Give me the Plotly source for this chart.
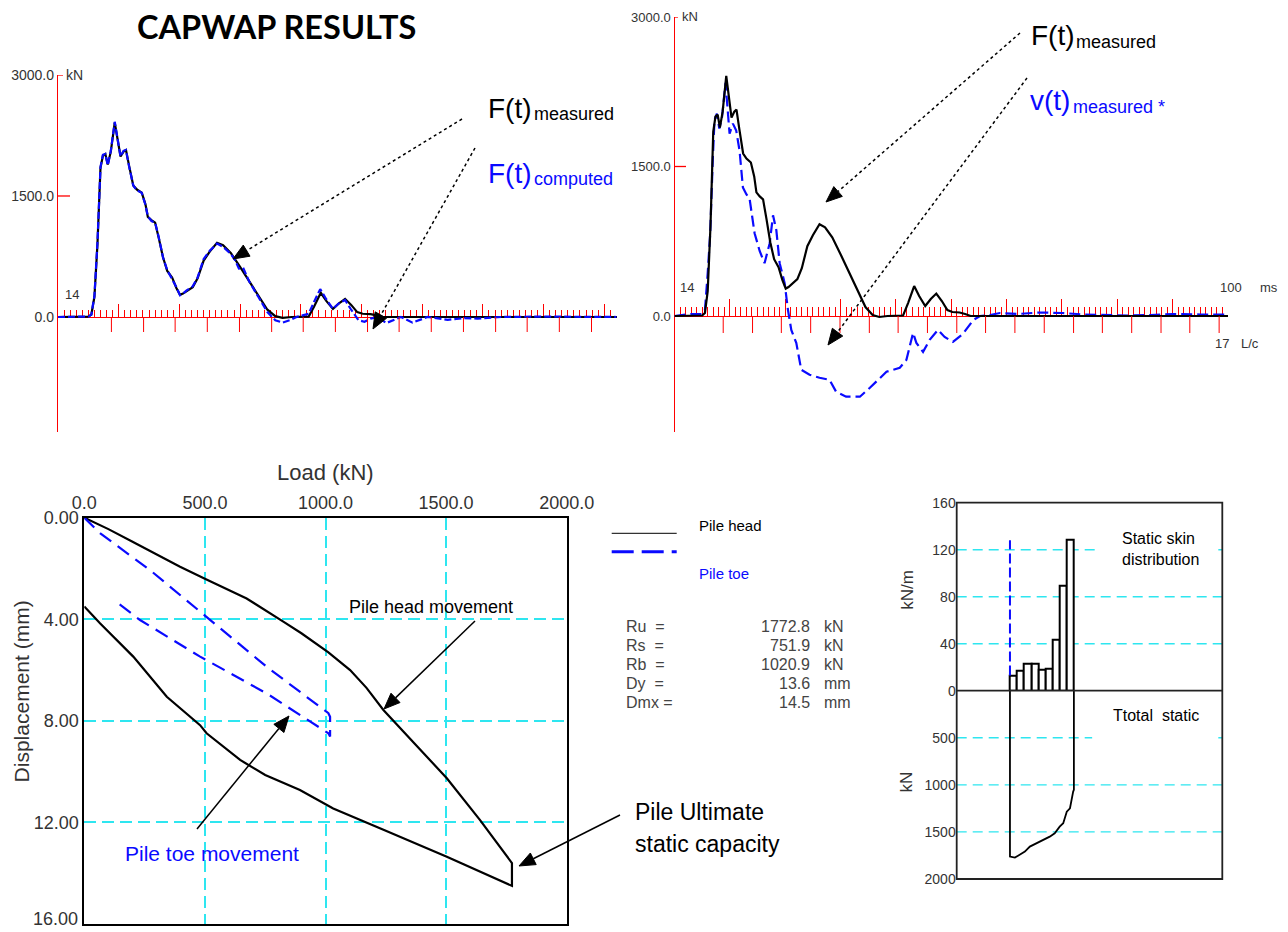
import math
import plotly.graph_objects as go

# page body adds an 8 px margin; the figure is sized so the chart lands where the reference has it
OFF = 8
W, H = 1280, 924


def fx(px):
    return (px - OFF) / W


def fy(py):
    return 1 - (py - OFF) / H


# ---------------- DATA ----------------
# Force measured (time ms, force kN)
t_force = [0, 4.0, 5.0, 5.5, 6.0, 6.5, 7.0, 7.4, 7.8, 8.2, 8.7, 9.35, 9.8, 10.3, 10.8, 11.2,
           11.7, 12.4, 13.0, 13.8, 14.4, 14.8, 15.4, 16.0, 16.6, 17.3, 18.0, 18.8, 19.5, 20.1,
           20.6, 21.2, 22.2, 23.0, 24.0, 25.0, 26.2, 27.2, 28.5, 30.0, 31.5, 33.0, 34.5, 35.8,
           37.0, 38.5, 40.0, 41.3, 42.2, 43.3, 44.2, 45.3, 46.3, 47.3, 48.3, 49.3, 50.2, 51.5,
           52.5, 53.5, 60, 70, 80, 90, 100]
f_measured = [0, 0, 5, 30, 250, 900, 1850, 2000, 2020, 1890, 2050, 2410, 2230, 1990, 2050, 2070,
              1880, 1630, 1580, 1540, 1400, 1240, 1200, 1170, 980, 740, 570, 490, 360, 275,
              290, 320, 370, 480, 700, 810, 920, 890, 790, 620, 440, 260, 90, 10,
              -10, 0, 0, 5, 130, 300, 200, 100, 170, 225, 150, 60, 40, 35,
              20, 0, 0, 0, 0, 0, 0]

# Force computed (top-left, blue dashed)
t_computed = [0, 4.0, 5.0, 5.5, 6.0, 6.5, 7.0, 7.4, 7.8, 8.2, 8.7, 9.35, 9.8, 10.3, 10.8, 11.2,
              11.7, 12.4, 13.0, 13.8, 14.4, 14.8, 15.4, 16.0, 16.6, 17.3, 18.0, 18.8, 19.5, 20.1,
              20.6, 21.2, 22.2, 23.0, 24.0, 25.0, 26.2, 27.2, 28.5, 29.2, 29.8, 30.5, 31.5, 33.0,
              34.5, 35.8, 37.0, 38.2, 39.3, 40.3, 41.3, 42.2, 43.2, 44.2, 45.3, 46.3, 47.3, 48.3,
              49.5, 50.5, 51.5, 52.6, 54.1, 56.5, 58.4, 60.9, 64.2, 67.0, 69.1, 73.0, 80.0, 92.0]
f_computed = [0, 0, 5, 30, 260, 920, 1860, 2010, 2020, 1880, 2060, 2420, 2240, 1990, 2060, 2070,
              1870, 1630, 1570, 1540, 1390, 1250, 1190, 1170, 990, 740, 580, 470, 370, 270,
              290, 330, 380, 490, 720, 820, 910, 870, 780, 700, 600, 610, 440, 250,
              60, -40, -70, -40, 0, 20, 40, 190, 345, 220, 100, 170, 210, 90,
              -40, -60, -20, 0, -75, 0, -70, 0, -35, -15, -20, 0, 5, 0]

# Velocity measured (times impedance), top-right blue dashed
t_velocity = [0, 3.0, 5.0, 5.5, 6.0, 6.45, 6.93, 7.23, 7.66, 8.1, 8.6, 9.22, 9.95, 10.55, 11.15,
              11.75, 12.36, 13.0, 13.56, 14.47, 15.4, 16.27, 17.2, 17.8, 18.4, 19.0, 19.9, 20.5,
              21.1, 22.0, 22.9, 24.4, 26.2, 28.0, 29.2, 31.0, 33.5, 35.3, 38.3, 40.7, 41.9, 43.1,
              43.7, 44.9, 46.1, 47.6, 48.8, 50.3, 52.1, 54.0, 55.2, 57.0, 58.8, 62, 66, 70, 74,
              78, 82, 86, 90, 95, 100]
v_measured = [0, 20, 20, 60, 430, 830, 1590, 1970, 2030, 1880, 2000, 2340, 1830, 1930, 1860,
              1660, 1290, 1220, 1180, 830, 650, 530, 730, 1010, 860, 530, 330, 60,
              -140, -270, -540, -590, -620, -640, -760, -810, -810, -720, -560, -520, -440, -170,
              -270, -360, -240, -140, -210, -260, -180, -40, 0, 10, 30, 20, 35, 30, 15,
              10, 5, 10, 20, 15, 15]

# L/c marks (ms)
lc_marks = [8.8, 14.1, 19.3, 24.6, 29.9, 35.2, 40.4, 45.7, 51.0, 56.2, 61.5, 66.8, 72.1,
            77.3, 82.6, 87.9, 93.1, 98.4]

# Load - displacement (kN, mm)
head_load = [0, 100, 200, 300, 397, 500, 673, 825, 900, 1012, 1102, 1170, 1240, 1370, 1503,
             1640, 1765, 1773, 1773, 1503, 1250, 1032, 894, 750, 646, 507, 480, 342, 203, 65, 0]
head_disp = [0, 0.45, 0.95, 1.45, 1.93, 2.4, 3.18, 4.09, 4.55, 5.3, 6.0, 6.7, 7.57, 8.9, 10.26,
             11.9, 13.48, 13.6, 14.5, 13.35, 12.33, 11.45, 10.72, 10.13, 9.54, 8.49, 8.17, 7.05,
             5.47, 4.16, 3.5]
toe_load = [0, 65, 272, 507, 756, 1012, 1019, 1019, 1012, 756, 480, 231, 141]
toe_disp = [0, 0.61, 2.06, 3.9, 5.87, 7.7, 7.84, 8.62, 8.49, 6.92, 5.47, 4.03, 3.37]
disp_ticks = [0, 4, 8, 12]
disp_tick_text = ["0.00", "4.00", "8.00", "12.00"]
disp_max_label = "16.00"

# Static skin distribution (kN/m) per 2 m segment
seg_centers = [1, 3, 5, 7, 9, 11, 13, 15, 17]
skin_q = [12.5, 17, 23.3, 23.3, 18.2, 19, 43.4, 89.7, 128.2]
toe_marker_q = [13, 128]
# Total static resistance along pile (depth m, kN)
rt_depth = [0, 0, 1.4, 2.8, 4.2, 5.6, 7.5, 9.4, 11.2, 12.6, 14.0, 15.0, 16.0, 16.9, 17.4, 17.8, 18, 18]
rt_value = [0, 1762, 1773, 1744, 1709, 1656, 1620, 1585, 1550, 1514, 1444, 1408, 1285, 1249,
            1125, 1072, 1054, 0]

skin_grid = [40, 80, 120]
total_grid = [500, 1000, 1500]

res_names = ["Ru&nbsp;&nbsp;=", "Rs&nbsp;&nbsp;=", "Rb&nbsp;&nbsp;=", "Dy&nbsp;&nbsp;=", "Dmx ="]
res_values = [1772.8, 751.9, 1020.9, 13.6, 14.5]
res_units = ["kN", "kN", "kN", "mm", "mm"]

# ---------------- FIGURE ----------------
FONT = "Liberation Sans, Arial, sans-serif"
BLUE = "#0a0aff"
CYAN = "#2ee6f0"
GREY = "#333333"

fig = go.Figure()

# top-left
fig.add_trace(go.Scatter(x=t_force, y=f_measured, mode="lines", xaxis="x", yaxis="y",
                         line=dict(color="black", width=2.2), showlegend=False))
fig.add_trace(go.Scatter(x=t_computed, y=f_computed, mode="lines", xaxis="x", yaxis="y",
                         line=dict(color=BLUE, width=2.2, dash="7px,3px"), showlegend=False))
# top-right
fig.add_trace(go.Scatter(x=t_velocity, y=v_measured, mode="lines", xaxis="x2", yaxis="y2",
                         line=dict(color=BLUE, width=2.2, dash="11px,5px"), showlegend=False))
fig.add_trace(go.Scatter(x=t_force, y=f_measured, mode="lines", xaxis="x2", yaxis="y2",
                         line=dict(color="black", width=2.2), showlegend=False))
# bottom-left
fig.add_trace(go.Scatter(x=head_load, y=head_disp, mode="lines", xaxis="x3", yaxis="y3",
                         line=dict(color="black", width=2.2), showlegend=False))
fig.add_trace(go.Scatter(x=toe_load, y=toe_disp, mode="lines", xaxis="x3", yaxis="y3",
                         line=dict(color=BLUE, width=2.2, dash="14px,8px"), showlegend=False))
# bottom-right
fig.add_trace(go.Bar(x=seg_centers, y=skin_q, width=2, xaxis="x4", yaxis="y4",
                     marker=dict(color="white", line=dict(color="black", width=2)), showlegend=False))
fig.add_trace(go.Scatter(x=[0, 0], y=toe_marker_q, mode="lines", xaxis="x4", yaxis="y4",
                         line=dict(color=BLUE, width=2, dash="10px,4px"), showlegend=False))
fig.add_trace(go.Scatter(x=rt_depth, y=rt_value, mode="lines", xaxis="x4", yaxis="y5",
                         line=dict(color="black", width=1.8), showlegend=False))

red_x = dict(showline=True, linecolor="red", linewidth=1.3, anchor="free", ticks="inside",
             tickcolor="red", tickwidth=1, tick0=0, dtick=10, showticklabels=False,
             showgrid=False, zeroline=False, layer="below traces")
red_y = dict(showline=True, linecolor="red", linewidth=1.3, ticks="", tickvals=[0, 1500, 3000],
             ticktext=["0.0", "1500.0", "3000.0"], showgrid=False, zeroline=False,
             layer="below traces")

layout = dict(
    width=W, height=H, margin=dict(l=0, r=0, t=0, b=0, autoexpand=False),
    paper_bgcolor="white", plot_bgcolor="rgba(0,0,0,0)",
    font=dict(family=FONT, color=GREY),
    showlegend=False,
    bargap=0,
    xaxis=dict(red_x, domain=[fx(58), fx(617)], range=[0, 92.1], position=fy(317), ticklen=13,
               minor=dict(ticks="inside", dtick=1, tick0=0, ticklen=7, tickcolor="red", tickwidth=1,
                          showgrid=False)),
    yaxis=dict(red_y, domain=[fy(432), fy(75)], range=[-1426, 3000], anchor="x",
               tickfont=dict(size=14, color=GREY)),
    xaxis2=dict(red_x, domain=[fx(674.5), fx(1228)], range=[0, 100], position=fy(316), ticklen=17,
                minor=dict(ticks="inside", dtick=1, tick0=0, ticklen=9, tickcolor="red", tickwidth=1,
                           showgrid=False)),
    yaxis2=dict(red_y, domain=[fy(432), fy(17)], range=[-1164, 3000], anchor="x2",
                tickfont=dict(size=13, color=GREY)),
    xaxis3=dict(domain=[fx(84.3), fx(566.7)], range=[0, 2000], side="top", anchor="y3",
                tickvals=[0, 500, 1000, 1500, 2000],
                ticktext=["0.0", "500.0", "1000.0", "1500.0", "2000.0"],
                showline=True, mirror=True, linecolor="black", linewidth=2, ticks="",
                showgrid=True, gridcolor=CYAN, griddash="12px,6px", gridwidth=1.5, zeroline=False,
                tickfont=dict(size=18, color=GREY)),
    yaxis3=dict(domain=[fy(924), fy(517.7)], range=[16, 0], anchor="x3",
                tickvals=disp_ticks, ticktext=disp_tick_text,
                showline=True, mirror=True, linecolor="black", linewidth=2, ticks="",
                showgrid=True, gridcolor=CYAN, griddash="12px,6px", gridwidth=1.5, zeroline=False,
                tickfont=dict(size=18, color=GREY)),
    xaxis4=dict(domain=[fx(956.7), fx(1222.3)], range=[-15, 59.8], anchor="y5", visible=False),
    yaxis4=dict(domain=[fy(690.7), fy(502.7)], range=[0, 160], anchor="x4",
                tickvals=[0, 40, 80, 120, 160], ticks="", showline=False, zeroline=False,
                showgrid=False, tickfont=dict(size=14, color=GREY)),
    yaxis5=dict(domain=[fy(879), fy(690.7)], range=[2000, 0], anchor="x4",
                tickvals=[500, 1000, 1500, 2000], ticks="", showline=False, zeroline=False,
                showgrid=False, tickfont=dict(size=14, color=GREY)),
)
fig.update_layout(**layout)

shapes = []
annotations = []


def pline(x0, y0, x1, y1, color="black", width=1.5, dash="solid", layer="above"):
    shapes.append(dict(type="line", xref="paper", yref="paper", x0=fx(x0), y0=fy(y0),
                       x1=fx(x1), y1=fy(y1), layer=layer,
                       line=dict(color=color, width=width, dash=dash)))


def prect(x0, y0, x1, y1, fill="white", line_color=None, width=0, layer="below"):
    shapes.append(dict(type="rect", xref="paper", yref="paper", x0=fx(x0), y0=fy(y0),
                       x1=fx(x1), y1=fy(y1), fillcolor=fill, layer=layer,
                       line=dict(color=line_color or fill, width=width)))


def arrow(start, tip, dotted, head_len=16, head_w=13, width=1.5):
    sx, sy = start
    tx, ty = tip
    dx, dy = sx - tx, sy - ty
    ln = math.hypot(dx, dy)
    ux, uy = dx / ln, dy / ln
    bx, by = tx + ux * head_len, ty + uy * head_len
    nx, ny = -uy, ux
    pline(sx, sy, bx, by, width=width, dash="dot" if dotted else "solid")
    p1 = (bx + nx * head_w / 2, by + ny * head_w / 2)
    p2 = (bx - nx * head_w / 2, by - ny * head_w / 2)
    path = "M {:.5f},{:.5f} L {:.5f},{:.5f} L {:.5f},{:.5f} Z".format(
        fx(tx), fy(ty), fx(p1[0]), fy(p1[1]), fx(p2[0]), fy(p2[1]))
    shapes.append(dict(type="path", path=path, xref="paper", yref="paper",
                       fillcolor="black", line=dict(color="black", width=1)))


def text(x, y, s, size, color="black", xanchor="left", angle=0, family=FONT, yanchor="middle"):
    annotations.append(dict(x=fx(x), y=fy(y), xref="paper", yref="paper", text=s,
                            showarrow=False, xanchor=xanchor, yanchor=yanchor, textangle=angle,
                            font=dict(size=size, color=color, family=family)))


# L/c marks (downward red ticks) on both time axes
for t in lc_marks:
    if t <= 92.1:
        shapes.append(dict(type="line", xref="x", yref="paper", x0=t, x1=t, y0=fy(317), y1=fy(332),
                           line=dict(color="red", width=1)))
    shapes.append(dict(type="line", xref="x2", yref="paper", x0=t, x1=t, y0=fy(316), y1=fy(333),
                       line=dict(color="red", width=1)))

# small horizontal ticks on force axes
shapes.append(dict(type="line", xref="paper", yref="y", x0=fx(58), x1=fx(70), y0=1500, y1=1500,
                   line=dict(color="red", width=1.3)))
shapes.append(dict(type="line", xref="paper", yref="y", x0=fx(58), x1=fx(63), y0=3000, y1=3000,
                   line=dict(color="red", width=1.3)))
shapes.append(dict(type="line", xref="paper", yref="y2", x0=fx(674.5), x1=fx(686), y0=1500, y1=1500,
                   line=dict(color="red", width=1.3)))
shapes.append(dict(type="line", xref="paper", yref="y2", x0=fx(674.5), x1=fx(678), y0=3000, y1=3000,
                   line=dict(color="red", width=1.3)))

# grid gaps in load-displacement panel (white masks below traces)
prect(326, 614, 537, 624)
prect(442, 587, 452, 637)
prect(200, 833, 210, 880)

# bottom-right gridlines (cyan dashed), with gaps where the reference has them
gap_skin = {120: 0.53}
gap_total = {500: 0.51}
for v in skin_grid:
    x_end = gap_skin.get(v, 1.0)
    shapes.append(dict(type="line", xref="x4 domain", yref="y4", x0=0, x1=x_end, y0=v, y1=v,
                       layer="below", line=dict(color=CYAN, width=1.4, dash="10px,6px")))
    if v in gap_skin:
        shapes.append(dict(type="line", xref="x4 domain", yref="y4", x0=0.985, x1=1, y0=v, y1=v,
                           layer="below", line=dict(color=CYAN, width=1.4)))
for v in total_grid:
    x_end = gap_total.get(v, 1.0)
    shapes.append(dict(type="line", xref="x4 domain", yref="y5", x0=0, x1=x_end, y0=v, y1=v,
                       layer="below", line=dict(color=CYAN, width=1.4, dash="10px,6px")))
    if v in gap_total:
        shapes.append(dict(type="line", xref="x4 domain", yref="y5", x0=0.985, x1=1, y0=v, y1=v,
                           layer="below", line=dict(color=CYAN, width=1.4)))

# bottom-right frame and zero line
prect(956.7, 502.7, 1222.3, 879, fill="rgba(0,0,0,0)", line_color="#222", width=1.8, layer="above")
pline(956.7, 690.7, 1222.3, 690.7, color="#222", width=1.8)

# legend samples
pline(611.7, 533.3, 676.7, 533.3, color="#333", width=1.3)
pline(611.7, 551.7, 676.7, 551.7, color=BLUE, width=3, dash="22px,8px")

# arrows
arrow((462, 119), (233, 259), True)
arrow((475, 148), (373, 329), True)
arrow((1020, 33), (826, 202), True)
arrow((1027, 78), (828, 345), True)
arrow((475, 621), (384, 709), False)
arrow((197, 829), (289, 716), False)
arrow((620, 815), (519, 866), False)

# texts
text(276, 27, "<b>CAPWAP RESULTS</b>", 32.5, "black", xanchor="center", family="Lato, Liberation Sans")
text(486, 108, "F(t)", 28)
text(532, 113.7, "measured", 18)
text(486, 173.6, "F(t)", 28, BLUE)
text(532, 178.8, "computed", 18, BLUE)
text(1029, 35.3, "F(t)", 28)
text(1074, 42, "measured", 18)
text(1028, 100.3, "v(t)", 28, BLUE)
text(1071, 107, "measured *", 18, BLUE)

text(64, 75, "kN", 14, GREY)
text(63, 294, "14", 13, GREY)
text(680, 17, "kN", 13, GREY)
text(678, 288, "14", 13, GREY)
text(1218, 288, "100", 13, GREY)
text(1257.7, 288, "ms", 13, GREY)
text(1213, 343.3, "17", 13, GREY)
text(1239, 343.3, "L/c", 13, GREY)

# bottom displacement label kept just inside the page edge
text(79.5, 931, disp_max_label, 18, GREY, xanchor="right", yanchor="bottom")

text(325.8, 472, "Load (kN)", 22, GREY, xanchor="center")
text(21.7, 691.7, "Displacement (mm)", 21, GREY, xanchor="center", angle=-90)
text(346.7, 606.8, "Pile head movement", 18)
text(123.3, 853, "Pile toe movement", 21, BLUE)
text(633, 812, "Pile Ultimate", 23)
text(633, 844, "static capacity", 23)

text(696.7, 525.4, "Pile head", 15)
text(696.7, 573.7, "Pile toe", 15, BLUE)
row_y = [626.7, 645.7, 664.3, 683.3, 702.3]
for yy, nm, val, un in zip(row_y, res_names, res_values, res_units):
    text(624, yy, nm, 16, "#444")
    text(811.7, yy, "{:.1f}".format(val), 16, "#444", xanchor="right")
    text(821.7, yy, un, 16, "#444")

text(1120, 538.4, "Static skin", 16)
text(1120, 559.7, "distribution", 16)
text(1110.7, 715.1, "Ttotal&nbsp; static", 16)
text(906.7, 590, "kN/m", 17, GREY, xanchor="center", angle=-90)
text(906.7, 781.7, "kN", 17, GREY, xanchor="center", angle=-90)

fig.update_layout(shapes=shapes, annotations=annotations)
fig.write_html("out.html")
